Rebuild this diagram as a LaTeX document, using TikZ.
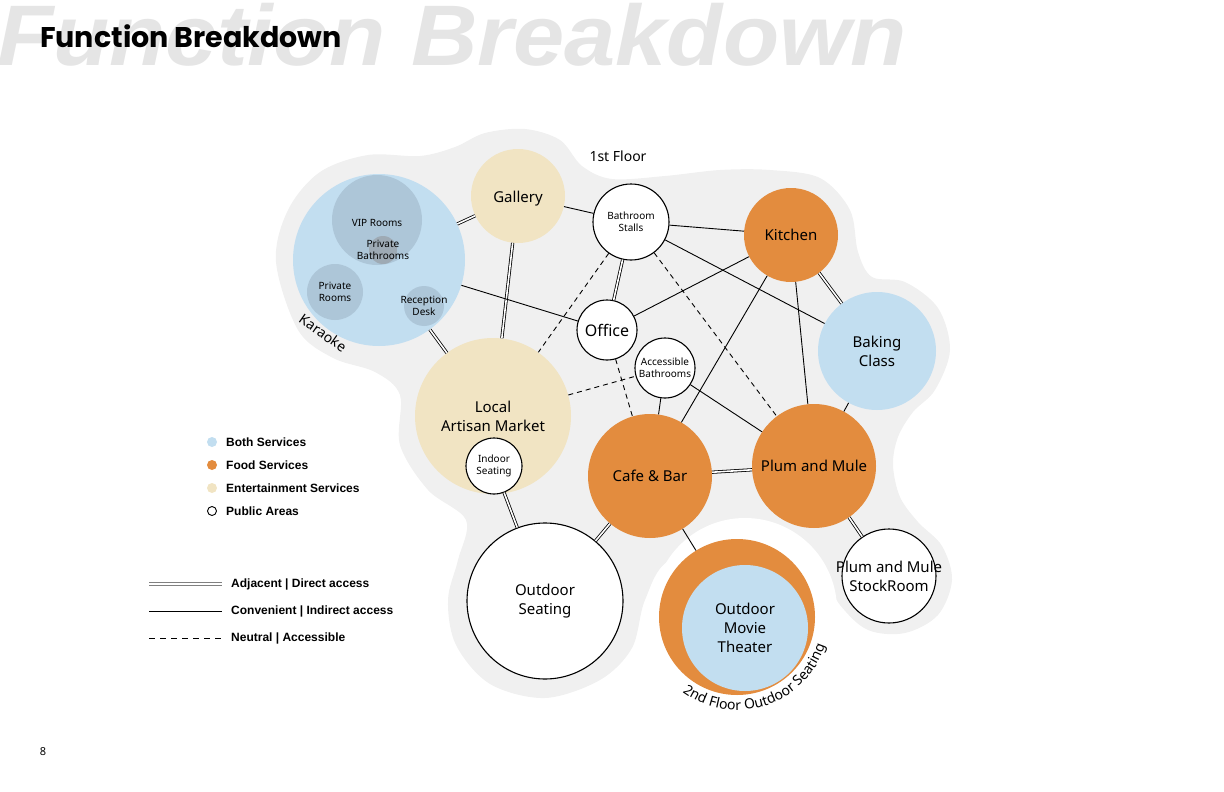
\documentclass[tikz,border=0pt]{standalone}
\usepackage{fontspec}
\setmainfont{Noto Sans}
\newfontfamily\titlefont{Poppins}
\newfontfamily\markfont{Liberation Sans}
\usetikzlibrary{decorations.text}

\begin{document}
\begin{tikzpicture}[x=1pt,y=-1pt,
  room/.style={circle,inner sep=0pt,align=center,font=\fontsize{15}{19}\selectfont},
  pub/.style={room,draw=black,line width=1.1pt,fill=white},
  smalltxt/.style={align=center,inner sep=0pt,font=\fontsize{10}{12}\selectfont},
  bigtxt/.style={align=center,inner sep=0pt,font=\fontsize{15}{19}\selectfont},
  kinner/.style={circle,inner sep=0pt,fill=karinner},
  adj/.style={draw=black,line width=.8pt,double=white,double distance=1.6pt},
  conv/.style={draw=black,line width=.9pt},
  neut/.style={draw=black,line width=.9pt,dash pattern=on 5pt off 4pt},
  dot/.style={circle,inner sep=0pt,minimum size=10pt},
  legend/.style={anchor=west,inner sep=0pt,font=\markfont\bfseries\fontsize{12}{14}\selectfont}]
\definecolor{bothblue}{RGB}{194,222,240}
\definecolor{foodorange}{RGB}{227,140,62}
\definecolor{entbeige}{RGB}{241,228,195}
\definecolor{blobgray}{RGB}{240,240,240}
\definecolor{markgray}{RGB}{229,229,229}
\definecolor{karinner}{RGB}{173,198,216}
\definecolor{karbath}{RGB}{158,170,180}
\useasboundingbox (0,0) rectangle (1224,792);
\node[anchor=base west,inner sep=0pt,xscale=1.07,text=markgray,font=\markfont\bfseries\itshape\fontsize{86}{86}\selectfont] (mark) at (-3,66) {Function Breakdown};
\node[anchor=base west,inner sep=0pt,font=\titlefont\bfseries\fontsize{28.5}{28.5}\selectfont] (title) at (40,48) {Function Breakdown};
\node[font=\fontsize{11}{11}\selectfont] (page) at (43,752) {8};
\fill[blobgray] plot[smooth cycle,tension=.55] coordinates {(276,262) (288,210) (320,172) (368,155) (420,156) (455,147) (485,133) (525,129) (560,140) (582,166) (612,179) (665,176) (720,170) (770,170) (820,178) (850,210) (858,252) (872,277) (905,282) (938,308) (950,350) (935,390) (913,412) (898,437) (893,465) (900,497) (918,522) (942,546) (952,580) (938,615) (905,633) (868,630) (840,605) (810,560) (740,548) (670,560) (645,600) (632,648) (600,680) (545,698) (490,684) (456,645) (448,600) (458,560) (466,520) (428,490) (400,445) (400,395) (375,372) (333,358) (298,330)};
\fill[white] (745,610) circle (92);
\node[font=\fontsize{14}{14}\selectfont] (floor1) at (618,156) {1st Floor};
\node[room,fill=bothblue,minimum size=172pt] (kar) at (379,260) {};
\node[kinner,minimum size=90pt,label={[smalltxt,yshift=-3pt]center:VIP Rooms}] (vip) at (377,220) {};
\node[circle,inner sep=0pt,fill=karbath,minimum size=28pt,label={[smalltxt]center:Private\\Bathrooms}] (pbath) at (383,250) {};
\node[kinner,minimum size=56pt,label={[smalltxt]center:Private\\Rooms}] (prooms) at (335,292) {};
\node[kinner,minimum size=40pt,label={[smalltxt]center:Reception\\Desk}] (recep) at (424,306) {};
\node[rotate=-35,font=\fontsize{14}{14}\selectfont] (karlbl) at (323,333) {Karaoke};
\node[room,fill=entbeige,minimum size=94pt,label={[bigtxt,yshift=-2.5pt]center:Gallery}] (gal) at (518,196) {};
\node[pub,minimum size=76pt,font=\fontsize{10}{12}\selectfont] (stall) at (631,222) {Bathroom\\Stalls};
\node[room,fill=foodorange,minimum size=94pt,label={[bigtxt]center:Kitchen}] (kit) at (791,235) {};
\node[pub,minimum size=60pt,font=\fontsize{16}{18}\selectfont] (off) at (607,330) {Office};
\node[pub,minimum size=60pt,font=\fontsize{10}{12}\selectfont] (acc) at (665,368) {Accessible\\Bathrooms};
\node[room,fill=bothblue,minimum size=118pt] (bak) at (877,351) {Baking\\Class};
\node[room,fill=entbeige,minimum size=156pt,label={[bigtxt]center:Local\\Artisan Market}] (lam) at (493,416) {};
\node[pub,minimum size=56pt,font=\fontsize{10}{12}\selectfont] (ind) at (494,466) {Indoor\\Seating};
\node[room,fill=foodorange,minimum size=124pt] (cafe) at (650,476) {Cafe \& Bar};
\node[room,fill=foodorange,minimum size=124pt] (plum) at (814,466) {Plum and Mule};
\node[pub,minimum size=156pt] (outs) at (545,601) {Outdoor\\Seating};
\node[room,fill=foodorange,minimum size=156pt] (movo) at (737,617) {};
\node[room,fill=bothblue,minimum size=126pt] (movie) at (745,628) {Outdoor\\Movie\\Theater};
\node[pub,minimum size=94pt,label={[bigtxt]center:Plum and Mule\\StockRoom}] (stock) at (889,576) {};
\path[decorate,decoration={text along path,text align=center,text={|\fontsize{14}{14}\selectfont|2nd Floor Outdoor Seating}}] ([shift={(144:93)}]movo.center) arc[start angle=144,end angle=0,radius=93];
\draw[adj] (kar) -- (gal);
\draw[adj] (kar) -- (lam);
\draw[adj] (gal) -- (lam);
\draw[adj] (stall) -- (off);
\draw[adj] (kit) -- (bak);
\draw[adj] (cafe) -- (plum);
\draw[adj] (plum) -- (stock);
\draw[adj] (ind) -- (outs);
\draw[adj] (cafe) -- (outs);
\draw[conv] (gal) -- (stall);
\draw[conv] (kar) -- (off);
\draw[conv] (stall) -- (kit);
\draw[conv] (stall) -- (bak);
\draw[conv] (off) -- (kit);
\draw[conv] (kit) -- (cafe);
\draw[conv] (kit) -- (plum);
\draw[conv] (acc) -- (cafe);
\draw[conv] (acc) -- (plum);
\draw[conv] (bak) -- (plum);
\draw[conv] (cafe) -- (movo);
\draw[neut] (stall) -- (lam);
\draw[neut] (stall) -- (plum);
\draw[neut] (off) -- (cafe);
\draw[neut] (lam) -- (acc);
\node[dot,fill=bothblue] (dboth) at (212,442) {};
\node[dot,fill=foodorange] (dfood) at (212,465) {};
\node[dot,fill=entbeige] (dent) at (212,488) {};
\node[dot,draw=black,line width=.9pt,fill=white,minimum size=9pt] (dpub) at (212,511) {};
\node[legend] (lboth) at (226,442) {Both Services};
\node[legend] (lfood) at (226,465) {Food Services};
\node[legend] (lent) at (226,488) {Entertainment Services};
\node[legend] (lpub) at (226,511) {Public Areas};
\node[legend] (ladj) at (231,584) {Adjacent | Direct access};
\node[legend] (lconv) at (231,611) {Convenient | Indirect access};
\node[legend] (lneut) at (231,638) {Neutral | Accessible};
\coordinate (sadj) at (149,584);
\coordinate (sconv) at (149,611);
\coordinate (sneut) at (149,638);
\draw[adj,draw=black!50,line width=1pt,double distance=1.2pt] (sadj) -- ([xshift=-9pt]ladj.west);
\draw[conv] (sconv) -- ([xshift=-9pt]lconv.west);
\draw[neut,dash pattern=on 6pt off 5pt] (sneut) -- ([xshift=-9pt]lneut.west);
\end{tikzpicture}
\end{document}
